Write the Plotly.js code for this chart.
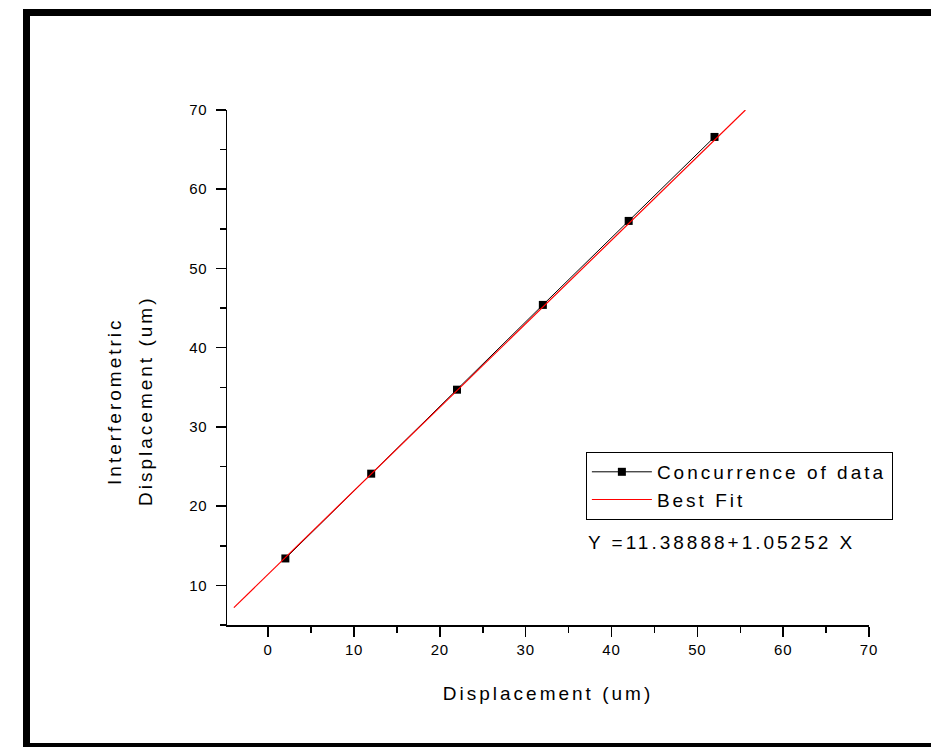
<!DOCTYPE html>
<html>
<head>
<meta charset="utf-8">
<script src="https://cdn.plot.ly/plotly-3.0.1.min.js"></script>
<style>
  html, body { margin: 0; padding: 0; background: #fff; overflow: hidden; }
  #chart { width: 931px; height: 747px; position: absolute; left: 0; top: 0; }
  text { letter-spacing: 3px; }
  #chart .xtick text, #chart .ytick text { letter-spacing: 0.8px; }
  #frame { position: absolute; left: 23px; top: 9px; width: 940px; height: 741px;
           border: 7px solid #000; box-sizing: border-box; pointer-events: none; }
</style>
</head>
<body>
<div id="chart"></div>
<div id="frame"></div>
<script>
// Data
const dataX = [2, 12, 22, 32, 42, 52];
const dataY = [13.4, 24.1, 34.7, 45.4, 56.0, 66.6];
const fitX = [-4, 55.6];
const fitY = [7.2, 70];
const xTicks = [0, 10, 20, 30, 40, 50, 60, 70];
const yTicks = [10, 20, 30, 40, 50, 60, 70];
const yTitleLines = ['Interferometric', 'Displacement (um)'];
const equationText = 'Y =11.38888+1.05252 X';

const font = 'Arial, "Liberation Sans", sans-serif';

const traces = [
  {
    x: dataX, y: dataY, type: 'scatter', mode: 'lines+markers',
    name: 'Concurrence of data',
    line: { color: '#000', width: 1 },
    marker: { symbol: 'square', size: 8, color: '#000' }
  },
  {
    x: fitX, y: fitY, type: 'scatter', mode: 'lines',
    name: 'Best Fit',
    line: { color: '#ff0000', width: 1.2 }
  }
];

const axisCommon = {
  showgrid: false, zeroline: false, showline: true, linecolor: '#000', linewidth: 1.5,
  ticks: 'outside', ticklen: 10, tickwidth: 1.5, tickcolor: '#000',
  tickfont: { family: font, size: 15, color: '#000' },
  mirror: false,
  minor: { ticks: 'outside', ticklen: 6, tickwidth: 1.5, tickcolor: '#000', dtick: 5 }
};

const layout = {
  width: 931, height: 747,
  margin: { l: 227, r: 62, t: 110, b: 122 },
  paper_bgcolor: '#fff', plot_bgcolor: '#fff',
  showlegend: true,
  xaxis: Object.assign({}, axisCommon, {
    range: [-4.8, 70], tickvals: xTicks, ticktext: xTicks.map(String),
    title: { text: 'Displacement (um)', font: { family: font, size: 19, color: '#000' }, standoff: 30 }
  }),
  yaxis: Object.assign({}, axisCommon, {
    range: [5, 70], tickvals: yTicks, ticktext: yTicks.map(String),
    ticklabelstandoff: 5
  }),
  legend: {
    x: 0.559, y: 0.336, xanchor: 'left', yanchor: 'top',
    bordercolor: '#000', borderwidth: 1, bgcolor: '#fff',
    font: { family: font, size: 19, color: '#000' },
    itemwidth: 60, tracegroupgap: 0
  },
  annotations: [
    {
      text: yTitleLines[0], xref: 'paper', yref: 'paper',
      x: -0.1745, y: 0.435, xanchor: 'center', yanchor: 'middle', textangle: -90,
      showarrow: false, font: { family: font, size: 19, color: '#000' }
    },
    {
      text: yTitleLines[1], xref: 'paper', yref: 'paper',
      x: -0.1262, y: 0.435, xanchor: 'center', yanchor: 'middle', textangle: -90,
      showarrow: false, font: { family: font, size: 19, color: '#000' }
    },
    {
      text: equationText, xref: 'paper', yref: 'paper',
      x: 0.559, y: 0.161, xanchor: 'left', yanchor: 'middle',
      showarrow: false, font: { family: font, size: 19, color: '#000' }
    }
  ]
};

Plotly.newPlot('chart', traces, layout, { displayModeBar: false, staticPlot: true });
</script>
</body>
</html>
